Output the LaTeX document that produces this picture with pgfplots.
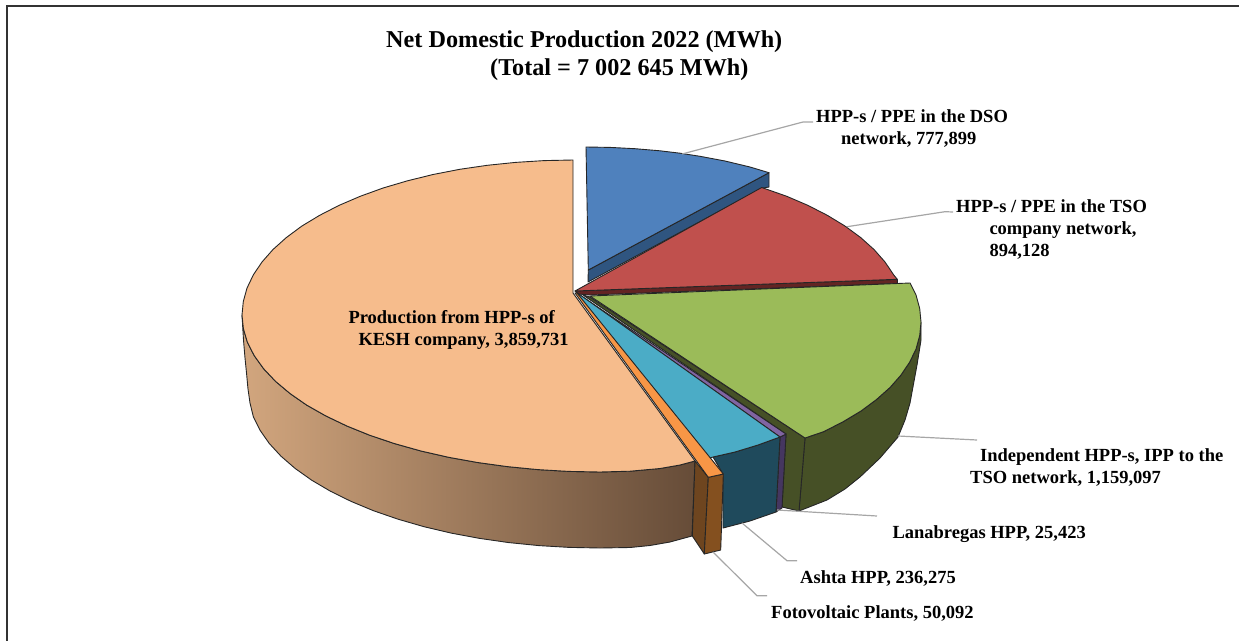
\documentclass[border=0pt]{standalone}
\usepackage{fontspec}
\setmainfont{Liberation Serif}
\usepackage{pgfplots}
\pgfplotsset{compat=1.18}

\definecolor{peach}{HTML}{F6BC8C}
\definecolor{blue1}{HTML}{4F81BD}
\definecolor{blue2}{HTML}{2F5580}
\definecolor{red1}{HTML}{C0504D}
\definecolor{red2}{HTML}{632423}
\definecolor{green1}{HTML}{9BBB59}
\definecolor{green2}{HTML}{465026}
\definecolor{teal1}{HTML}{4BACC6}
\definecolor{teal2}{HTML}{1F4A5C}
\definecolor{purple1}{HTML}{8064A2}
\definecolor{purple2}{HTML}{453660}
\definecolor{orange1}{HTML}{F79646}
\definecolor{orange2}{HTML}{84501F}
\definecolor{orange3}{HTML}{6E451F}
\definecolor{wallL}{HTML}{D2A67E}
\definecolor{wallM}{HTML}{AD8562}
\definecolor{wallR}{HTML}{664C38}
\definecolor{leader}{HTML}{A6A6A6}

\tikzset{
  face/.style={draw=black!85, line width=0.9bp, line join=round},
  lead/.style={draw=leader, line width=1.2bp},
  lab/.style={anchor=base west, inner sep=0pt, font=\fontsize{18.5bp}{21bp}\selectfont\bfseries},
  ttl/.style={anchor=base west, inner sep=0pt, font=\fontsize{24.2bp}{27bp}\selectfont\bfseries},
}

\begin{document}
\begin{tikzpicture}
\useasboundingbox (0,0) rectangle (1239bp,641bp);
\begin{axis}[
  at={(0,0)}, anchor=south west,
  scale only axis, width=1239bp, height=641bp,
  xmin=0, xmax=1239, ymin=0, ymax=641,
  y dir=reverse,
  hide axis, clip=false,
]
% frame, only top and left are there
\addplot[draw=black!80, line width=1.6bp] coordinates {(7,641) (7,6) (1239,6)};

% blue slice
\addplot[face, fill=blue2] coordinates {(588.3,270) (769,172.7) (769,187) (761.7,188.3) (588,282)} -- cycle;
\addplot[face, fill=blue1] coordinates {(588.3,270) (586,147) (610,147.4) (635,148.7) (660,150.8) (680,153.2) (700,156.3) (725,161) (750,167) (769,172.7)} -- cycle;

% red slice
\addplot[face, fill=red2] coordinates {(575,291) (897.3,279.3) (897.3,283.5) (590,295) (578,294)} -- cycle;
\addplot[face, fill=red1] coordinates {(575,291) (761.7,187.5) (786.8,196.3) (808,205.4) (827.5,215.4) (845.1,226.1) (860.6,237.5) (874,249.5) (885,262) (893.7,274.9) (897.3,279.3)} -- cycle;

% KESH slice
\addplot[face, left color=wallL, middle color=wallM, right color=wallR] coordinates {
  (242,315) (243.4,328.7) (247.4,342.3) (254.2,355.6) (263.6,368.7) (275.5,381.3) (290,393.5)
  (306.7,405.1) (325.8,415.9) (346.9,426) (369.9,435.3) (394.6,443.6) (421,451) (448.7,457.3)
  (477.6,462.5) (507.3,466.6) (537.9,469.6) (568.8,471.4) (600,472) (630,471.2) (660,468.5)
  (680,465) (695,461)
  (692,536) (670,542) (650,545.5) (630,547.5) (600,548) (569.3,547.4) (538.9,545.6) (508.9,542.6)
  (479.6,538.4) (451.2,533.1) (424,526.7) (398.1,519.2) (373.7,510.8) (351.1,501.4) (330.4,491.2)
  (311.7,480.2) (295.2,468.5) (281,456.2) (269.2,443.4) (260,430.2) (253.3,416.6) (250,403)
  (248,389) (246.7,375) (245,358) (243.5,340) (242.6,325)} -- cycle;
\addplot[face, fill=peach] coordinates {
  (573,293) (573,160) (544.1,160.6) (515.5,162.4) (487.3,165.3) (459.8,169.3) (433.1,174.5)
  (407.5,180.8) (383.1,188) (360.2,196.3) (339,205.4) (319.5,215.4) (301.8,226.1) (286.4,237.5)
  (273,249.5) (262,262) (253.3,274.9) (247,288.1) (243.3,301.5) (242,315)
  (243.4,328.7) (247.4,342.3) (254.2,355.6) (263.6,368.7) (275.5,381.3) (290,393.5)
  (306.7,405.1) (325.8,415.9) (346.9,426) (369.9,435.3) (394.6,443.6) (421,451) (448.7,457.3)
  (477.6,462.5) (507.3,466.6) (537.9,469.6) (568.8,471.4) (600,472) (630,471.2) (660,468.5)
  (680,465) (695,461)} -- cycle;

% green slice
\addplot[face, fill=green2] coordinates {(805,438) (823.8,431.6) (843.3,421.6) (861,411) (876.5,399.5) (890,387.5) (901,375) (909.7,362) (916,349) (919.7,335.5) (921,322)
  (921,340) (917,365) (910,403) (905,420) (898,437) (880,458) (860,477) (845,489) (827,500) (799,511)} -- cycle;
\addplot[face, fill=green2] coordinates {(583,295) (786,434) (782,507) (799,511) (805,438) (590,297)} -- cycle;
\addplot[face, fill=green1] coordinates {(590,296) (910,283) (916,295) (919.7,308.5) (921,322) (919.7,335.5) (916,349) (909.7,362) (901,375) (890,387.5) (876.5,399.5) (861,411) (843.3,421.6) (823.8,431.6) (805,438)} -- cycle;

% Lanabregas
\addplot[face, fill=purple2] coordinates {(780,437) (786,434) (782,508) (776,512)} -- cycle;
\addplot[face, fill=purple1] coordinates {(577,293) (780,437) (786,434)} -- cycle;

% Ashta
\addplot[face, fill=teal2] coordinates {(713,457) (735,452) (758,445) (780,437) (776,512) (750,521) (723,528) (723,474)} -- cycle;
\addplot[face, fill=teal1] coordinates {(576,292) (706,459) (713,457) (735,452) (758,445) (780,437)} -- cycle;

% Fotovoltaic
\addplot[face, fill=orange3] coordinates {(695,461) (708.3,477.3) (704.3,554) (692.3,536)} -- cycle;
\addplot[face, fill=orange2] coordinates {(708.3,477.3) (723.3,474) (720.7,550) (704.3,554)} -- cycle;
\addplot[face, fill=orange1] coordinates {(575,293) (708.3,477.3) (723.3,474) (577,293)} -- cycle;

% leader lines
\addplot[lead] coordinates {(682,154) (803,122) (813,122)};
\addplot[lead] coordinates {(847,226.7) (945,211.7) (953,212)};
\addplot[lead] coordinates {(898,436) (977,440)};
\addplot[lead] coordinates {(777,510) (877,516)};
\addplot[lead] coordinates {(742,523) (787,560.7) (797,560.7)};
\addplot[lead] coordinates {(713,552) (757,595.7) (767,595.7)};

% texts
\node[ttl] at (axis cs:386,48) {Net Domestic Production 2022 (MWh)};
\node[ttl] at (axis cs:490,76) {(Total = 7 002 645 MWh)};
\node[lab] at (axis cs:816,122) {HPP-s / PPE in the DSO};
\node[lab] at (axis cs:841,144) {network, 777,899};
\node[lab] at (axis cs:956,212) {HPP-s / PPE in the TSO};
\node[lab] at (axis cs:989.3,234) {company network,};
\node[lab] at (axis cs:989.3,256) {894,128};
\node[lab] at (axis cs:980,461.5) {Independent HPP-s, IPP to the};
\node[lab] at (axis cs:970,483.5) {TSO network, 1,159,097};
\node[lab] at (axis cs:892.3,538) {Lanabregas HPP, 25,423};
\node[lab] at (axis cs:800,583) {Ashta HPP, 236,275};
\node[lab] at (axis cs:771,618) {Fotovoltaic Plants, 50,092};
\node[lab] at (axis cs:348.3,323.5) {Production from HPP-s of};
\node[lab] at (axis cs:358.3,345.5) {KESH company, 3,859,731};
\end{axis}
\end{tikzpicture}
\end{document}
